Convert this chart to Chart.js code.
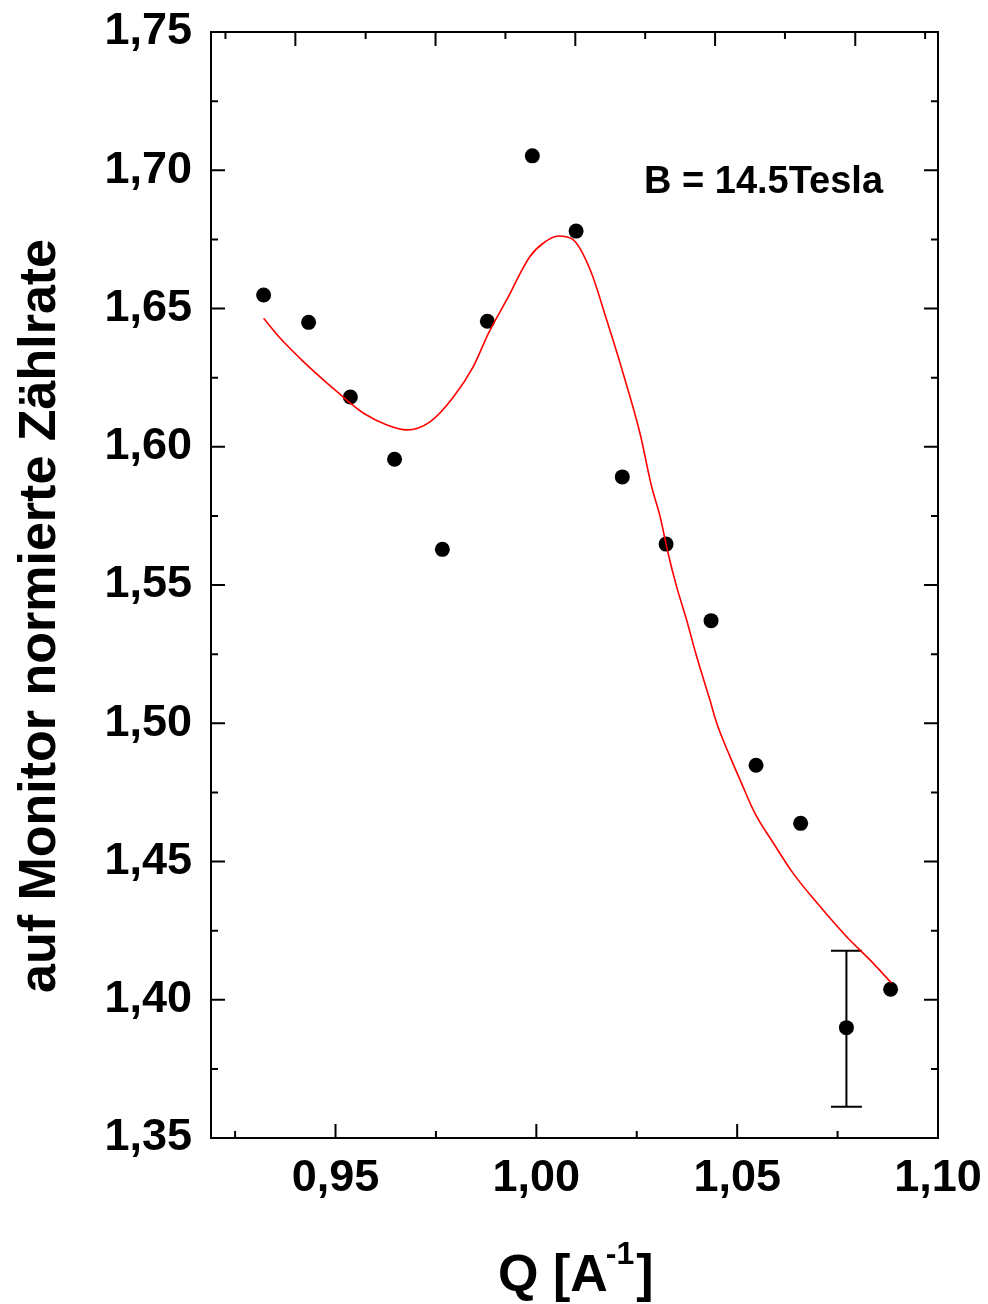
<!DOCTYPE html>
<html>
<head>
<meta charset="utf-8">
<script src="https://cdn.jsdelivr.net/npm/chart.js@4/dist/chart.umd.min.js"></script>
<style>
  html, body { margin: 0; padding: 0; background: #fff; }
  #wrap { width: 988px; height: 1304px; position: relative; }
</style>
</head>
<body>
<div id="wrap"><canvas id="c"></canvas></div>
<script>
// ---- data ----
const qData    = [0.9321, 0.9433, 0.9537, 0.9647, 0.9766, 0.9878, 0.9990, 1.0099, 1.0214, 1.0323, 1.0435, 1.0547, 1.0658, 1.0772, 1.0882];
const rateData = [1.6549, 1.6450, 1.6180, 1.5955, 1.5629, 1.6454, 1.7052, 1.6780, 1.5891, 1.5648, 1.5371, 1.4848, 1.4638, 1.3899, 1.4038];
const errPlus  = [null, null, null, null, null, null, null, null, null, null, null, null, null, 0.0278, null];
const errMinus = [null, null, null, null, null, null, null, null, null, null, null, null, null, 0.0286, null];

const fitQ    = [0.9321, 0.9362, 0.9420, 0.9503, 0.9570, 0.9628, 0.9678, 0.9736, 0.9794, 0.9843, 0.9881, 0.9926, 0.9984, 1.0017, 1.0055, 1.0092, 1.0134, 1.0175, 1.0216, 1.0258, 1.0287, 1.0308, 1.0328, 1.0349, 1.0374, 1.0399, 1.0432, 1.0449, 1.0482, 1.0507, 1.0544, 1.0590, 1.0639, 1.0706, 1.0772, 1.0830, 1.0884];
const fitRate = [1.6465, 1.6393, 1.6308, 1.6200, 1.6121, 1.6079, 1.6061, 1.6091, 1.6181, 1.6290, 1.6411, 1.6531, 1.6688, 1.6736, 1.6762, 1.6748, 1.6640, 1.6459, 1.6266, 1.6049, 1.5856, 1.5748, 1.5615, 1.5495, 1.5374, 1.5242, 1.5085, 1.5001, 1.4880, 1.4796, 1.4675, 1.4567, 1.4458, 1.4338, 1.4229, 1.4145, 1.4061];

const xMajorTicks   = [0.95, 1.00, 1.05, 1.10];
const xMinorTicks   = [0.925, 0.975, 1.025, 1.075];
const topMajorTicks = [0.9400, 0.9749, 1.0097, 1.0445, 1.0794];
const topMinorTicks = [0.9226, 0.9575, 0.9923, 1.0271, 1.0619, 1.0968];
const yMajorTicks   = [1.35, 1.40, 1.45, 1.50, 1.55, 1.60, 1.65, 1.70, 1.75];
const yMinorTicks   = [1.375, 1.425, 1.475, 1.525, 1.575, 1.625, 1.675, 1.725];

const xRange = [0.919, 1.10];
const yRange = [1.35, 1.75];

const yTitle = 'auf Monitor normierte Zählrate';
const xTitleMain = 'Q [A';
const xTitleSup = '-1';
const xTitleEnd = ']';
const annotation = 'B = 14.5Tesla';

// ---- build ----
const FONT = '"Liberation Sans", Arial, sans-serif';
const fmt = v => v.toFixed(2).replace('.', ',');

const points = qData.map((q, i) => ({ x: q, y: rateData[i] }));
const fit = fitQ.map((q, i) => ({ x: q, y: fitRate[i] }));

const framePlugin = {
  id: 'framePlugin',
  beforeDatasetsDraw(chart) {
    const { ctx, scales: { x, y } } = chart;
    ctx.save();
    ctx.strokeStyle = '#000';
    ctx.lineWidth = 2;
    const capHalf = 15.5;
    qData.forEach((q, i) => {
      if (errPlus[i] == null) return;
      const px = x.getPixelForValue(q);
      const yt = y.getPixelForValue(rateData[i] + errPlus[i]);
      const yb = y.getPixelForValue(rateData[i] - errMinus[i]);
      ctx.beginPath();
      ctx.moveTo(px, yt); ctx.lineTo(px, yb);
      ctx.moveTo(px - capHalf, yt); ctx.lineTo(px + capHalf, yt);
      ctx.moveTo(px - capHalf, yb); ctx.lineTo(px + capHalf, yb);
      ctx.stroke();
    });
    ctx.restore();
  },
  afterDraw(chart) {
    const { ctx, chartArea: a, scales: { x, y } } = chart;
    ctx.save();
    ctx.strokeStyle = '#000';
    ctx.lineWidth = 2;
    ctx.lineCap = 'square';
    ctx.strokeRect(a.left, a.top, a.right - a.left, a.bottom - a.top);
    ctx.lineCap = 'butt';
    const MAJ = 14, MIN = 7;
    ctx.beginPath();
    const hTick = (v, len) => {
      const py = y.getPixelForValue(v);
      ctx.moveTo(a.left, py); ctx.lineTo(a.left + len, py);
      ctx.moveTo(a.right, py); ctx.lineTo(a.right - len, py);
    };
    yMajorTicks.forEach(v => hTick(v, MAJ));
    yMinorTicks.forEach(v => hTick(v, MIN));
    const bTick = (v, len) => {
      const px = x.getPixelForValue(v);
      ctx.moveTo(px, a.bottom); ctx.lineTo(px, a.bottom - len);
    };
    xMajorTicks.forEach(v => bTick(v, MAJ));
    xMinorTicks.forEach(v => bTick(v, MIN));
    const tTick = (v, len) => {
      const px = x.getPixelForValue(v);
      ctx.moveTo(px, a.top); ctx.lineTo(px, a.top + len);
    };
    topMajorTicks.forEach(v => tTick(v, MAJ));
    topMinorTicks.forEach(v => tTick(v, MIN));
    ctx.stroke();

    // texts
    ctx.fillStyle = '#000';
    // y title
    ctx.save();
    ctx.font = 'bold 52px ' + FONT;
    ctx.translate(55, 616);
    ctx.rotate(-Math.PI / 2);
    ctx.textAlign = 'center';
    ctx.textBaseline = 'alphabetic';
    ctx.fillText(yTitle, 0, 0);
    ctx.restore();

    // x title with superscript
    ctx.textAlign = 'left';
    ctx.textBaseline = 'alphabetic';
    ctx.font = 'bold 52px ' + FONT;
    const x0 = 498, base = 1291;
    ctx.fillText(xTitleMain, x0, base);
    const w1 = ctx.measureText(xTitleMain).width;
    ctx.font = 'bold 32px ' + FONT;
    ctx.fillText(xTitleSup, x0 + w1 - 2, base - 27);
    const w2 = ctx.measureText(xTitleSup).width;
    ctx.font = 'bold 52px ' + FONT;
    ctx.fillText(xTitleEnd, x0 + w1 + w2, base);

    // annotation
    ctx.font = 'bold 38px ' + FONT;
    ctx.fillText(annotation, 644, 193);
    ctx.restore();
  }
};

new Chart(document.getElementById('c'), {
  type: 'scatter',
  data: {
    datasets: [
      {
        label: 'fit',
        data: fit,
        showLine: true,
        borderColor: '#ff0000',
        borderWidth: 1.6,
        pointRadius: 0,
        cubicInterpolationMode: 'monotone',
        fill: false
      },
      {
        label: 'data',
        data: points,
        pointRadius: 7.5,
        pointBackgroundColor: '#000',
        pointBorderWidth: 0,
        showLine: false
      }
    ]
  },
  options: {
    responsive: true,
    maintainAspectRatio: false,
    animation: false,
    devicePixelRatio: 1,
    layout: { padding: { left: 0, top: 32, right: 50, bottom: 0 } },
    plugins: { legend: { display: false }, tooltip: { enabled: false } },
    scales: {
      x: {
        type: 'linear',
        min: xRange[0], max: xRange[1],
        border: { display: false },
        grid: { display: false, drawTicks: false },
        afterBuildTicks: s => { s.ticks = xMajorTicks.map(v => ({ value: v })); },
        afterFit: s => { s.height = 166; s.paddingLeft = 0; s.paddingRight = 0; },
        ticks: {
          autoSkip: false, maxRotation: 0, minRotation: 0,
          padding: 14, color: '#000',
          font: { family: FONT, weight: 'bold', size: 45 },
          callback: v => fmt(v)
        }
      },
      y: {
        type: 'linear',
        min: yRange[0], max: yRange[1],
        border: { display: false },
        grid: { display: false, drawTicks: false },
        afterBuildTicks: s => { s.ticks = yMajorTicks.map(v => ({ value: v })); },
        afterFit: s => { s.width = 211; s.paddingTop = 0; s.paddingBottom = 0; },
        ticks: {
          autoSkip: false, padding: 19, color: '#000',
          font: { family: FONT, weight: 'bold', size: 45 },
          callback: v => fmt(v)
        }
      }
    }
  },
  plugins: [framePlugin]
});
</script>
</body>
</html>
